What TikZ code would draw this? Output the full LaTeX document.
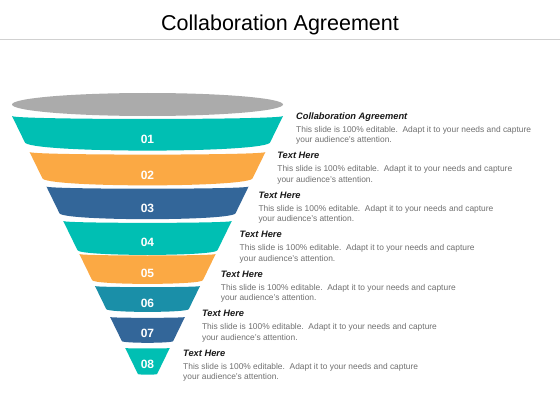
\documentclass[tikz,border=0pt]{standalone}
\usepackage{fontspec}
\setmainfont{Liberation Sans}
\definecolor{funnelteal}{HTML}{00BFB3}
\definecolor{funnelorange}{HTML}{FBA944}
\definecolor{funnelnavy}{HTML}{336699}
\definecolor{funnelblue}{HTML}{1A8FA8}
\definecolor{rimgray}{HTML}{ABABAB}
\definecolor{bodygray}{HTML}{707070}
\tikzset{
  bandnum/.style={text=white,font=\fontsize{12}{14}\selectfont\bfseries},
  infotext/.style={anchor=north west,inner sep=0pt,align=left,text=bodygray,
    font=\fontsize{8.4}{10.5}\selectfont},
}
\newcommand{\infohead}[1]{{\color{black!90}\fontsize{9.3}{11}\selectfont\bfseries\itshape #1}}
\begin{document}
\begin{tikzpicture}[x=1pt,y=-1pt]
  \useasboundingbox[fill=white] (0,0) rectangle (560,420);
  % title and rule
  \node[font=\fontsize{21.5}{25}\selectfont,anchor=base] (title) at (280,31) {Collaboration Agreement};
  \draw[black!18,line width=1.5pt] (0,39.5) -- (560,39.5);
  % funnel rim
  \fill[rimgray] (147.5,104.5) ellipse [x radius=135.5,y radius=11.5];
  % funnel bands
  \foreach \t/\b/\c/\ly/\n in {116/142/funnelteal/139/01, 152/178/funnelorange/175/02,
      186.5/213/funnelnavy/208/03, 221/250/funnelteal/242/04, 254/280/funnelorange/273/05,
      286/309/funnelblue/303/06, 317/341/funnelnavy/333/07, 348/374/funnelteal/364/08}{
    \pgfmathsetmacro\wt{135.5-0.488*(\t-116)}
    \pgfmathsetmacro\wb{135.5-0.488*(\b-116)}
    \pgfmathsetmacro\st{1.333*0.022*\wt}
    \pgfmathsetmacro\sb{1.333*0.07*\wb}
    \fill[\c] (147.5-\wt,\t) .. controls (147.5-\wt,\t+\st) and (147.5+\wt,\t+\st) .. (147.5+\wt,\t)
      -- (147.5+\wb,\b) .. controls (147.5+\wb,\b+\sb) and (147.5-\wb,\b+\sb) .. (147.5-\wb,\b) -- cycle;
    \node[bandnum] (band\n) at (147.5,\ly) {\n};
  }
  % text blocks
  \foreach \i/\head in {0/Collaboration Agreement,1/Text Here,2/Text Here,3/Text Here,
      4/Text Here,5/Text Here,6/Text Here}{
    \node[infotext] (info\i) at (296-18.83*\i,112.5+39.5*\i)
      {\infohead{\head}\\[2.5pt]This slide is 100\% editable.\ \ Adapt it to your needs and capture\\your audience's attention.};
  }
\end{tikzpicture}
\end{document}
